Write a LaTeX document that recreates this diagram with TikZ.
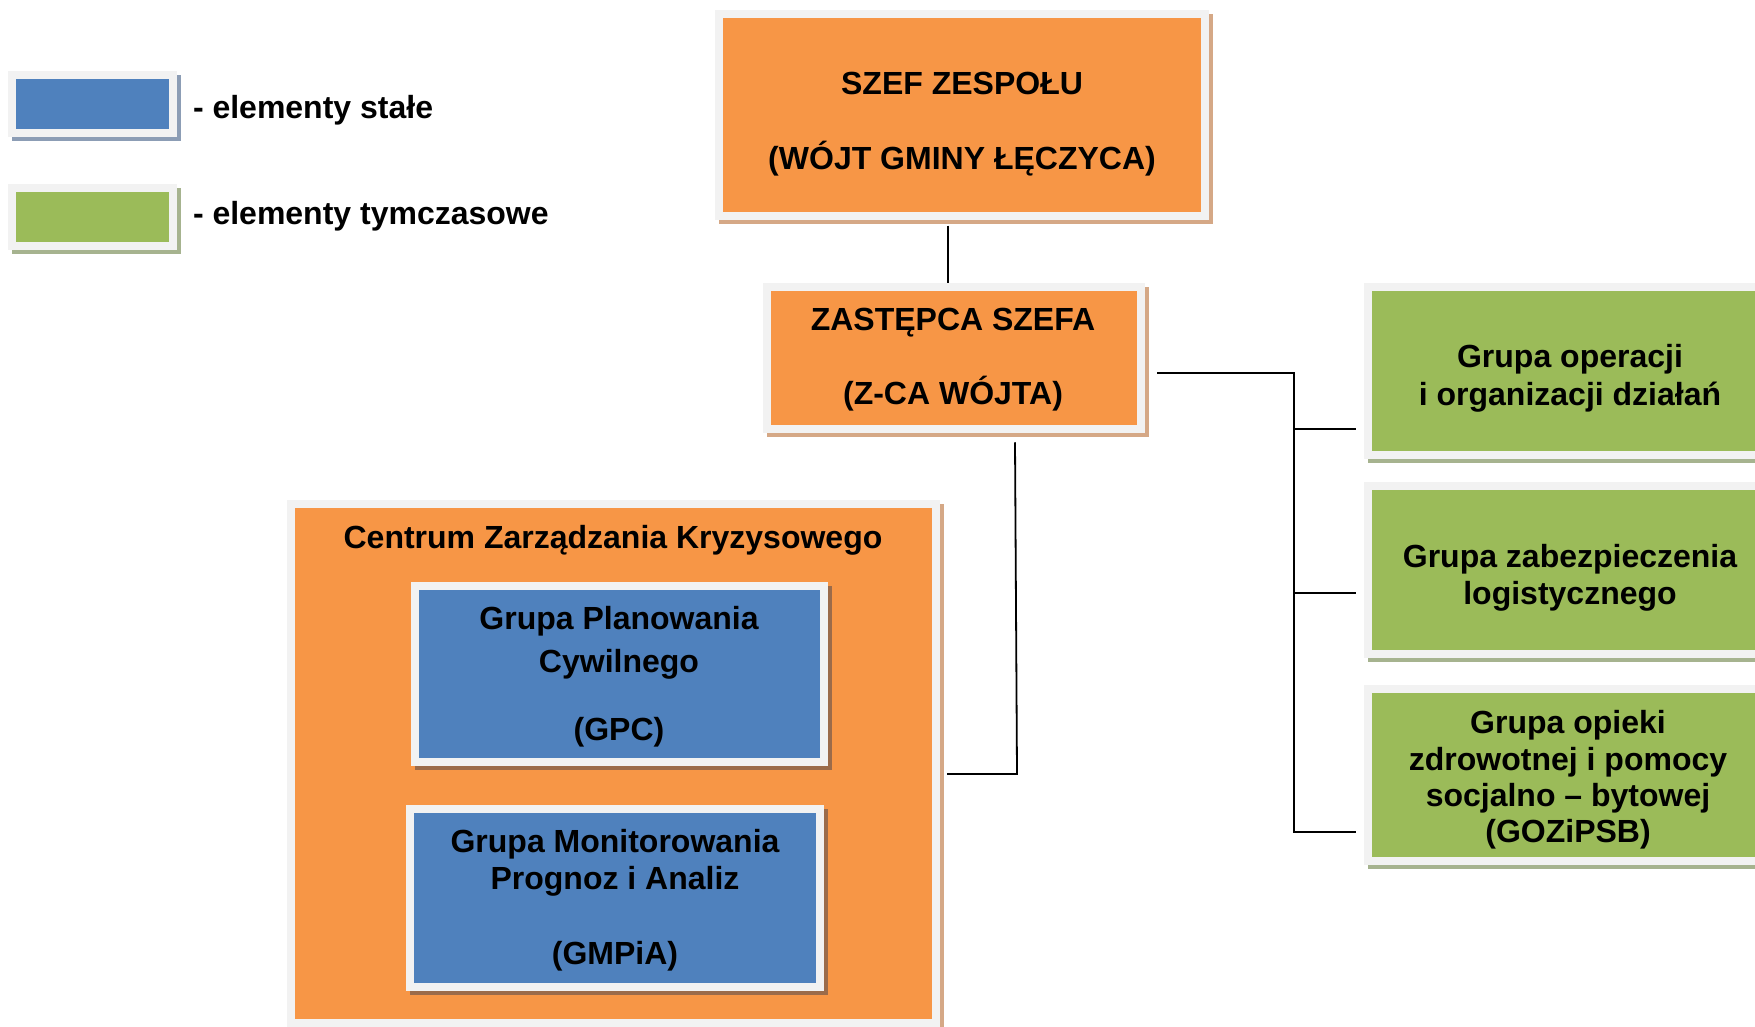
\documentclass[tikz,border=0pt]{standalone}
\usepackage{fontspec}
\setmainfont{Liberation Sans}
\usetikzlibrary{calc}
\definecolor{borange}{HTML}{F79646}
\definecolor{bblue}{HTML}{4F81BD}
\definecolor{bgreen}{HTML}{9BBB59}
\definecolor{bgrey}{HTML}{F2F2F2}
\definecolor{shorange}{HTML}{D5A886}
\definecolor{shblue}{HTML}{8C9DB5}
\definecolor{shgreen}{HTML}{A6B38F}
\definecolor{shbrown}{HTML}{9B6B4A}
\begin{document}
\begin{tikzpicture}[x=1pt,y=-1pt,
  box/.style={draw=bgrey, line width=8pt, inner sep=0pt, outer sep=0pt, fill=#1},
  shade/.style={preaction={draw=#1, fill=#1, line width=8pt, transform canvas={xshift=4pt,yshift=-4pt}}},
  txt/.style={font=\fontsize{32}{37}\selectfont\bfseries, inner sep=0pt, outer sep=0pt, anchor=base, text=black},
  conn/.style={draw=black, line width=1.8pt}
]
\path[use as bounding box] (0,0) rectangle (1755,1027);
\begin{scope}
\clip (0,0) rectangle (1755,1027);

% legend
\node[box=bblue, shade=shblue, minimum width=161pt, minimum height=58pt] (legblue) at (92.5,104.5) {};
\node[box=bgreen, shade=shgreen, minimum width=161pt, minimum height=58pt] (leggreen) at (92.5,217) {};
\node[txt, anchor=base west] (legbluet) at (193,119) {- elementy stałe};
\node[txt, anchor=base west] (leggreent) at (193,224) {- elementy tymczasowe};

% chief
\node[box=borange, shade=shorange, minimum width=486pt, minimum height=201pt] (szef) at (962,115) {};
\node[txt] (szef1) at (962,95) {SZEF ZESPOŁU};
\node[txt] (szef2) at (962,170) {(WÓJT GMINY ŁĘCZYCA)};

% deputy
\node[box=borange, shade=shorange, minimum width=374pt, minimum height=142.5pt] (zast) at (954,358) {};
\node[txt] (zast1) at (953,330) {ZASTĘPCA SZEFA};
\node[txt] (zast2) at (953,404) {(Z-CA WÓJTA)};

% green groups
\node[box=bgreen, shade=shgreen, minimum width=404pt, minimum height=168.5pt] (g1) at (1570,371) {};
\node[txt] (g1a) at (1570,367) {Grupa operacji};
\node[txt] (g1b) at (1570,405) {i organizacji działań};

\node[box=bgreen, shade=shgreen, minimum width=404pt, minimum height=168.5pt] (g2) at (1570,570) {};
\node[txt] (g2a) at (1570,567) {Grupa zabezpieczenia};
\node[txt] (g2b) at (1570,604) {logistycznego};

\node[box=bgreen, shade=shgreen, minimum width=404pt, minimum height=172pt] (g3) at (1570,775) {};
\node[txt] (g3a) at (1568,733) {Grupa opieki};
\node[txt] (g3b) at (1568,770) {zdrowotnej i pomocy};
\node[txt] (g3c) at (1568,806) {socjalno – bytowej};
\node[txt] (g3d) at (1568,842) {(GOZiPSB)};

% crisis centre
\node[box=borange, shade=shorange, minimum width=645pt, minimum height=519pt] (czk) at (613.5,763.5) {};
\node[txt] (czkt) at (613,548) {Centrum Zarządzania Kryzysowego};

\node[box=bblue, shade=shbrown, minimum width=409pt, minimum height=176pt] (gpc) at (619.5,674) {};
\node[txt] (gpc1) at (619,629) {Grupa Planowania};
\node[txt] (gpc2) at (619,672) {Cywilnego};
\node[txt] (gpc3) at (619,740) {(GPC)};

\node[box=bblue, shade=shbrown, minimum width=409.5pt, minimum height=177.5pt] (gmp) at (615,898) {};
\node[txt] (gmp1) at (615,852) {Grupa Monitorowania};
\node[txt] (gmp2) at (615,889) {Prognoz i Analiz};
\node[txt] (gmp3) at (615,964) {(GMPiA)};

% connectors
\draw[conn] ($(szef.south)+(-14,10)$) -- ($(zast.north)+(-6,-4)$);
\draw[conn] ($(zast.east)+(16,15)$) -| ($(g3.west)+(-74,57)$) -- ($(g3.west)+(-12,57)$);
\draw[conn] ($(g1.west)+(-74,58)$) -- ($(g1.west)+(-12,58)$);
\draw[conn] ($(g2.west)+(-74,23)$) -- ($(g2.west)+(-12,23)$);
\draw[conn] ($(zast.south)+(61,13)$) -- ($(czk.east)+(81,10.5)$) -- ($(czk.east)+(11,10.5)$);
\end{scope}
\end{tikzpicture}
\end{document}
